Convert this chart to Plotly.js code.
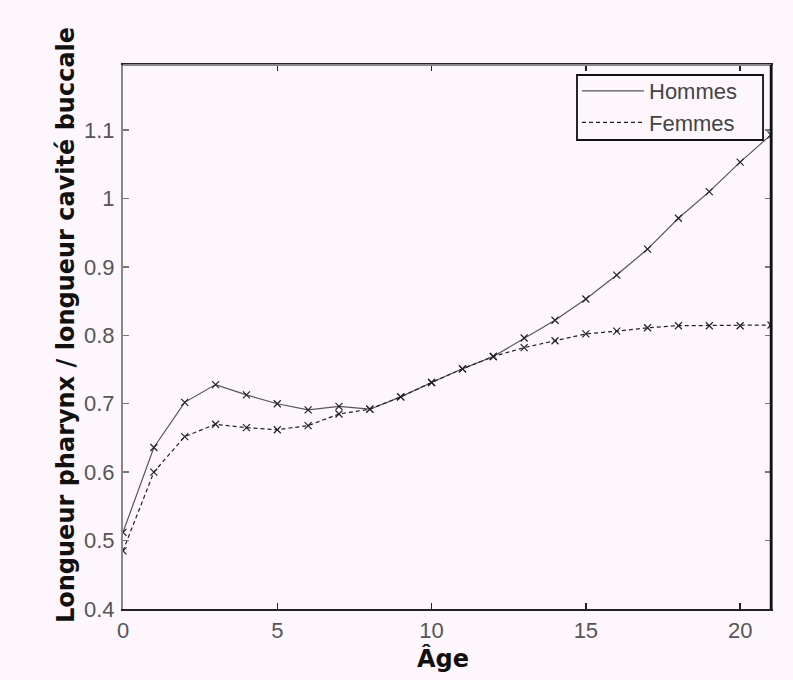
<!DOCTYPE html>
<html>
<head>
<meta charset="utf-8">
<script src="https://cdn.plot.ly/plotly-3.0.1.min.js"></script>
<style>html,body{margin:0;padding:0;background:#fdf7fd;}#chart{width:793px;height:680px;}</style>
</head>
<body>
<div id="chart"></div>
<script>
const ages = [0,1,2,3,4,5,6,7,8,9,10,11,12,13,14,15,16,17,18,19,20,21];
const hommes = [0.512,0.636,0.702,0.728,0.713,0.700,0.691,0.696,0.692,0.710,0.731,0.751,0.769,0.796,0.822,0.853,0.888,0.926,0.971,1.010,1.053,1.093];
const femmes = [0.485,0.600,0.652,0.670,0.665,0.662,0.668,0.685,0.692,0.710,0.731,0.751,0.769,0.782,0.792,0.802,0.806,0.811,0.814,0.814,0.814,0.815];
const seriesNames = ['Hommes','Femmes'];
const xTicks = [0,5,10,15,20];
const yTicks = [0.4,0.5,0.6,0.7,0.8,0.9,1,1.1];
const yTickText = ['0.4','0.5','0.6','0.7','0.8','0.9','1','1.1'];
const xTitle = 'Âge';
const yTitle = 'Longueur pharynx / longueur cavité buccale';

const BG = '#fdf7fd';
const markerStyle = {symbol: 'x-thin', size: 7, color: '#222', line: {color: '#222', width: 1.2}};
const dashes = ['solid', '4px,3px'];
const lineColors = ['#555', '#222'];
const data = [hommes, femmes];
const traces = [];
data.forEach((vals, i) => {
  traces.push({x: ages, y: vals, name: seriesNames[i], mode: 'lines+markers', showlegend: false,
    line: {color: lineColors[i], width: 1.2, dash: dashes[i]}, marker: markerStyle});
});
// legend-only entries (line sample without markers, as in the original)
data.forEach((vals, i) => {
  traces.push({x: [null], y: [null], name: seriesNames[i], mode: 'lines', showlegend: true,
    line: {color: lineColors[i], width: 1.2, dash: dashes[i]}});
});

const tickFont = {family: 'Liberation Sans, Arial, sans-serif', size: 22, color: '#555'};
const titleFont = {family: 'DejaVu Sans, sans-serif', size: 24, color: '#111', weight: 'bold'};
const layout = {
  width: 793, height: 680,
  paper_bgcolor: BG, plot_bgcolor: BG,
  margin: {l: 123, r: 22, t: 65, b: 71},
  showlegend: true,
  legend: {x: 0.7006, y: 0.9908, xanchor: 'left', yanchor: 'top',
    bgcolor: 'rgba(0,0,0,0)', borderwidth: 0,
    font: {family: 'Liberation Sans, Arial, sans-serif', size: 22, color: '#444'},
    itemwidth: 62, tracegroupgap: 0},
  xaxis: {range: [0, 21], tickvals: xTicks, ticks: 'inside', ticklen: 6, tickcolor: '#222', tickwidth: 1.5,
    showline: true, linecolor: '#222', linewidth: 2, mirror: 'ticks', showgrid: false, zeroline: false,
    ticklabelstandoff: 1, tickfont: tickFont},
  yaxis: {range: [0.4, 1.195], tickvals: yTicks, ticktext: yTickText, ticks: 'inside', ticklen: 6, tickcolor: '#777', tickwidth: 1.5,
    showline: true, linecolor: '#888', linewidth: 2, mirror: 'ticks', showgrid: false, zeroline: false,
    ticklabelstandoff: 2, tickfont: tickFont},
  shapes: [
    {type: 'line', xref: 'paper', yref: 'paper', x0: 0, x1: 1, y0: 1, y1: 1, line: {color: '#888', width: 2}},
    {type: 'line', xref: 'paper', yref: 'paper', x0: 1, x1: 1, y0: 0, y1: 1, line: {color: '#111', width: 2.5}},
    {type: 'rect', xref: 'paper', yref: 'paper', x0: 0.7006, x1: 0.9877, y0: 0.8621, y1: 0.9816,
      fillcolor: BG, line: {color: '#111', width: 1.8}, layer: 'above'}
  ],
  annotations: [
    {text: yTitle, xref: 'paper', yref: 'paper', x: -0.0880, y: 0.522, xanchor: 'center', yanchor: 'middle',
      textangle: -90, showarrow: false, font: titleFont},
    {text: xTitle, xref: 'paper', yref: 'paper', x: 0.494, y: -0.0919, xanchor: 'center', yanchor: 'middle',
      showarrow: false, font: titleFont}
  ]
};
Plotly.newPlot('chart', traces, layout, {displayModeBar: false, staticPlot: true});
</script>
</body>
</html>
